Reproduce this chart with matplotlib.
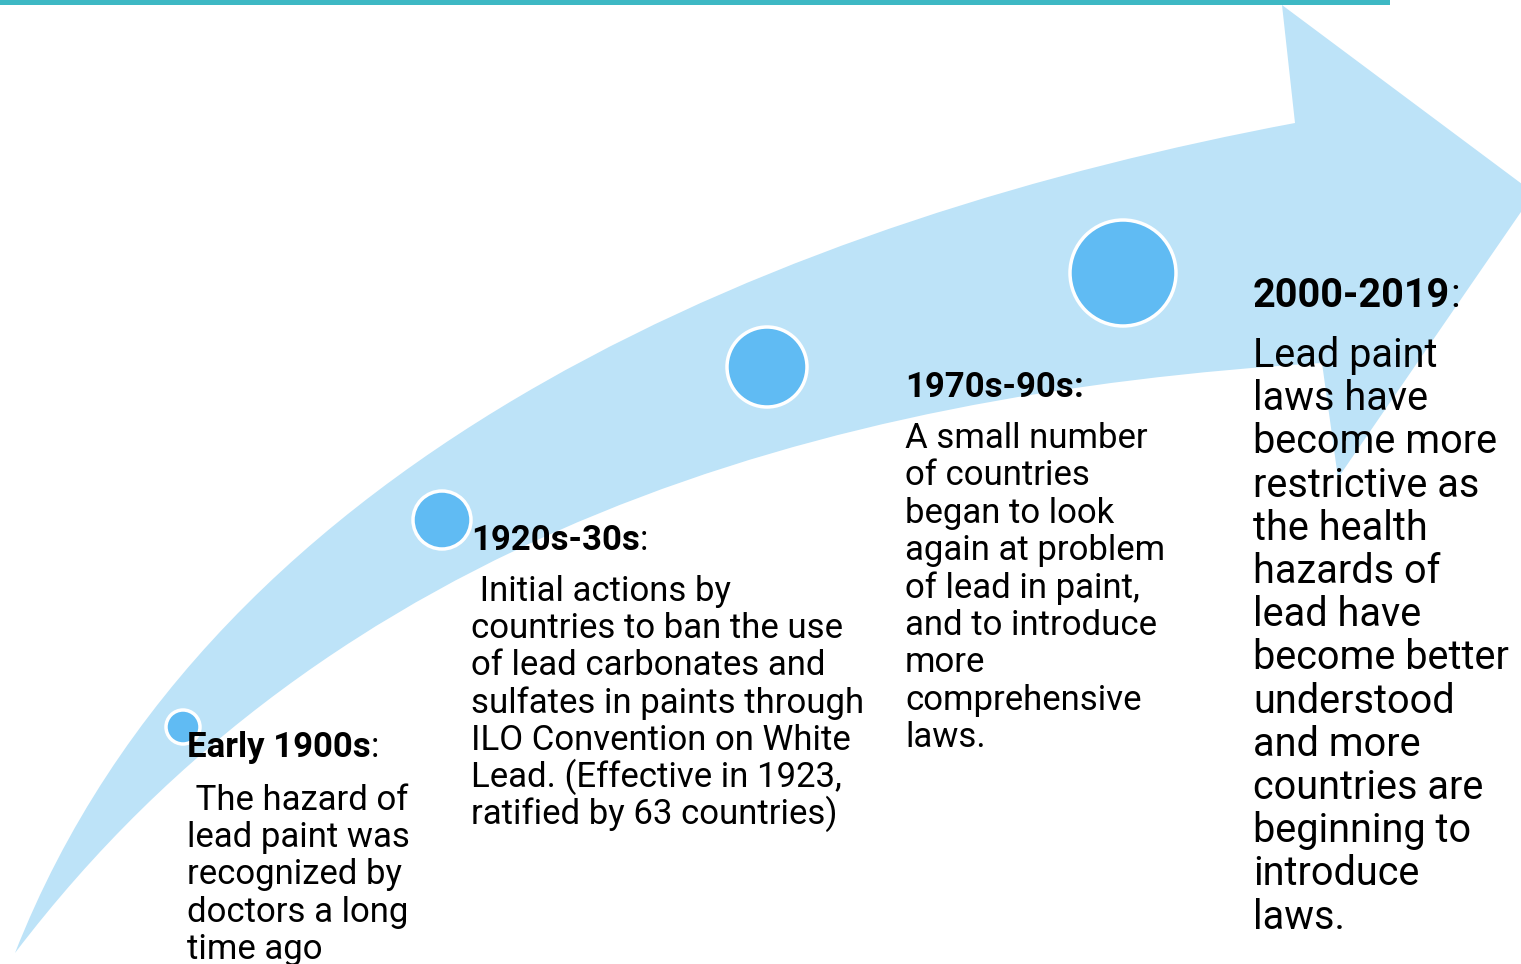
import matplotlib
matplotlib.use("Agg")
import matplotlib.pyplot as plt
import numpy as np
from matplotlib.path import Path
from matplotlib.patches import PathPatch, Circle, Rectangle

plt.rcParams["font.family"] = ["Roboto", "DejaVu Sans"]

W, H = 1521, 964

# arrow outline, pixel coords (y grows downward)
upper_edge_x = [15, 47, 83, 140, 200, 250, 300, 367, 440, 507, 573, 640, 707, 773, 820, 880, 980, 1080, 1180, 1295]
upper_edge_y = [953, 880, 813, 730, 650, 597, 557, 507, 443, 403, 365, 332, 300, 273, 253, 230, 200, 173, 147, 123]
lower_edge_x = [15, 67, 127, 207, 300, 367, 450, 580, 680, 780, 850, 950, 1050, 1150, 1250, 1322]
lower_edge_y = [953, 880, 813, 747, 682, 643, 592, 510, 473, 447, 438, 413, 393, 380, 369, 363]
head_x = [1282, 1534, 1338, 1322]
head_y = [5, 193, 478, 363]

# milestone dots
circle_x = [183, 442, 767, 1123]
circle_y = [727, 520, 367, 273]
circle_r = [17, 29, 40, 53]

# text blocks
periods = ["Early 1900s", "1920s-30s", "1970s-90s", "2000-2019"]
colon_bold = [False, False, True, False]
descriptions = [
    [" The hazard of", "lead paint was", "recognized by", "doctors a long", "time ago"],
    [" Initial actions by", "countries to ban the use", "of lead carbonates and",
     "sulfates in paints through", "ILO Convention on White",
     "Lead. (Effective in 1923,", "ratified by 63 countries)"],
    ["A small number", "of countries", "began to look", "again at problem",
     "of lead in paint,", "and to introduce", "more", "comprehensive", "laws."],
    ["Lead paint", "laws have", "become more", "restrictive as", "the health",
     "hazards of", "lead have", "become better", "understood", "and more",
     "countries are", "beginning to", "introduce", "laws."],
]
block_x = [187, 471, 905, 1253]
header_base = [757, 550, 397, 307]
body_base = [810, 601, 448, 367]
line_step = [37.2, 37.2, 37.4, 43.2]
font_pt = [25, 25, 25, 28.5]

ARROW = "#bde3f8"
DOT = "#60bbf3"
BAR = "#3db8c4"


def fit_bezier(xs, ys, iters=60):
    # least-squares cubic bezier with fixed end points
    P = np.column_stack([xs, ys]).astype(float)
    seg = np.hypot(*np.diff(P, axis=0).T)
    t = np.r_[0, np.cumsum(seg)] / seg.sum()
    P0, P3 = P[0], P[-1]
    for _ in range(iters):
        b0, b1 = (1 - t) ** 3, 3 * t * (1 - t) ** 2
        b2, b3 = 3 * t ** 2 * (1 - t), t ** 3
        rhs = P - np.outer(b0, P0) - np.outer(b3, P3)
        (P1, P2), *_ = np.linalg.lstsq(np.column_stack([b1, b2]), rhs, rcond=None)
        B = np.outer(b0, P0) + np.outer(b1, P1) + np.outer(b2, P2) + np.outer(b3, P3)
        d1 = 3 * (np.outer((1 - t) ** 2, P1 - P0) + np.outer(2 * t * (1 - t), P2 - P1)
                  + np.outer(t ** 2, P3 - P2))
        d2 = 6 * (np.outer(1 - t, P2 - 2 * P1 + P0) + np.outer(t, P3 - 2 * P2 + P1))
        diff = B - P
        den = (d1 * d1).sum(1) + (diff * d2).sum(1)
        t = np.clip(t - (diff * d1).sum(1) / den, 0, 1)
        t[0], t[-1] = 0.0, 1.0
    return P0, P1, P2, P3


fig = plt.figure(figsize=(W / 100, H / 100), dpi=100)
ax = fig.add_axes([0, 0, 1, 1])
ax.set_xlim(0, W)
ax.set_ylim(H, 0)
ax.axis("off")

# top bar
ax.add_patch(Rectangle((0, 0), 1390, 5, color=BAR, lw=0))

# arrow: upper edge -> head -> lower edge back to the tail
u0, u1, u2, u3 = fit_bezier(upper_edge_x, upper_edge_y)
l0, l1, l2, l3 = fit_bezier(lower_edge_x[::-1], lower_edge_y[::-1])
verts = [u0, u1, u2, u3] + list(zip(head_x, head_y)) + [l1, l2, l3, (0, 0)]
codes = ([Path.MOVETO] + [Path.CURVE4] * 3 + [Path.LINETO] * len(head_x)
         + [Path.CURVE4] * 3 + [Path.CLOSEPOLY])
ax.add_patch(PathPatch(Path(verts, codes), facecolor=ARROW, edgecolor="none", zorder=1))

for x, y, r in zip(circle_x, circle_y, circle_r):
    ax.add_patch(Circle((x, y), r, facecolor=DOT, edgecolor="white", lw=2.5, zorder=2))

fig.canvas.draw()
renderer = fig.canvas.get_renderer()
inv = ax.transData.inverted()
for i, period in enumerate(periods):
    x, fs = block_x[i], font_pt[i]
    t = ax.text(x, header_base[i], period, fontsize=fs, fontweight="bold",
                va="baseline", ha="left", zorder=3)
    bb = t.get_window_extent(renderer=renderer)
    x_end = inv.transform((bb.x1, bb.y0))[0]
    ax.text(x_end, header_base[i], ":", fontsize=fs,
            fontweight="bold" if colon_bold[i] else "normal",
            va="baseline", ha="left", zorder=3)
    for j, line in enumerate(descriptions[i]):
        ax.text(x, body_base[i] + j * line_step[i], line, fontsize=fs,
                va="baseline", ha="left", zorder=3)

fig.savefig("out.png", dpi=100, facecolor="white")
